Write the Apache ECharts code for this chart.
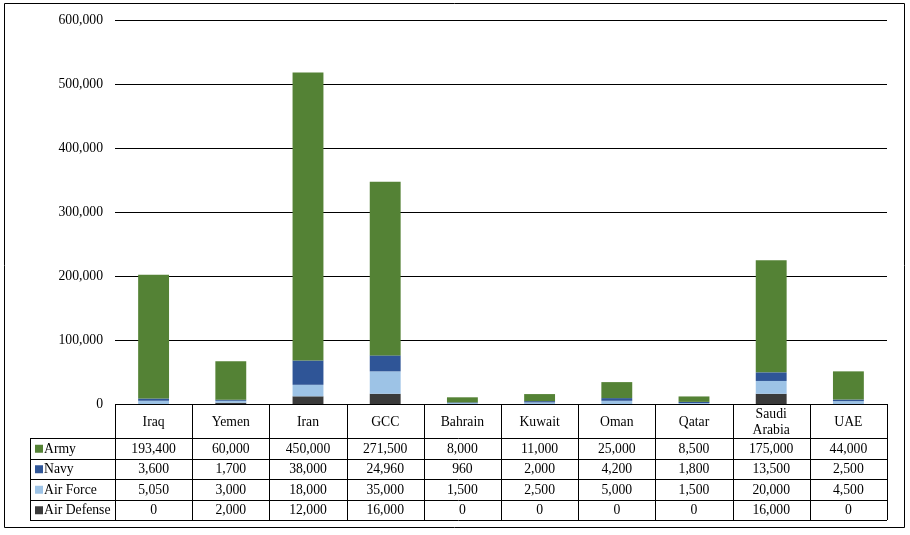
<!DOCTYPE html>
<html><head><meta charset="utf-8">
<script src="https://cdn.jsdelivr.net/npm/echarts@6/dist/echarts.min.js"></script>
<style>html,body{margin:0;padding:0;background:#fff}#c{width:910px;height:535px}</style>
</head><body><div id="c"></div>
<script>
const categories = ['Iraq','Yemen','Iran','GCC','Bahrain','Kuwait','Oman','Qatar','Saudi\nArabia','UAE'];
const army = [193400,60000,450000,271500,8000,11000,25000,8500,175000,44000];
const navy = [3600,1700,38000,24960,960,2000,4200,1800,13500,2500];
const airForce = [5050,3000,18000,35000,1500,2500,5000,1500,20000,4500];
const airDefense = [0,2000,12000,16000,0,0,0,0,16000,0];
const yTicks = [0,100000,200000,300000,400000,500000,600000];

const colors = {army:'#548235', navy:'#2F5597', airForce:'#9DC3E6', airDefense:'#3A3A3A'};
const FONT = '"Liberation Serif","Times New Roman",serif';
const FS = 13.7;

const L = 115, R = 887, T = 20, B = 404;
const W = 910, H = 535;
const colW = (R - L) / categories.length;
const headerH = 34;
const rowH = (520 - 438) / 4;
const legendX = 30;

const rows = [
  {name:'Army', data:army, color:colors.army},
  {name:'Navy', data:navy, color:colors.navy},
  {name:'Air Force', data:airForce, color:colors.airForce},
  {name:'Air Defense', data:airDefense, color:colors.airDefense}
];

const fmt = v => v.toLocaleString('en-US');
const g = [];
g.push({type:'rect', shape:{x:4.5,y:3.5,width:900,height:524}, style:{fill:null, stroke:'#000', lineWidth:1}, silent:true});
const tableTop = B, rowsTop = B + headerH, tableBottom = rowsTop + rowH*4;
const line = (x1,y1,x2,y2) => g.push({type:'line', shape:{x1,y1,x2,y2}, style:{stroke:'#000', lineWidth:1}, silent:true});
line(L, tableTop+0.5, R, tableTop+0.5);
for (let i=0;i<=categories.length;i++){
  const x = Math.round(L + i*colW)+0.5;
  line(x, tableTop, x, tableBottom);
}
line(legendX+0.5, rowsTop, legendX+0.5, tableBottom);
for (let r=0;r<=4;r++){
  const y = Math.round(rowsTop + r*rowH)+0.5;
  line(legendX, y, R, y);
}
categories.forEach((c,i)=>{
  g.push({type:'text', x:L+(i+0.5)*colW, y:tableTop+headerH/2+1, style:{text:c, fill:'#000', font:FS+'px '+FONT, align:'center', verticalAlign:'middle', lineHeight:16}, silent:true});
});
rows.forEach((row,r)=>{
  const cy = rowsTop + (r+0.5)*rowH + 1;
  g.push({type:'rect', shape:{x:legendX+5, y:cy-4.5, width:8, height:8}, style:{fill:row.color}, silent:true});
  g.push({type:'text', x:legendX+14, y:cy, style:{text:row.name, fill:'#000', font:FS+'px '+FONT, align:'left', verticalAlign:'middle'}, silent:true});
  row.data.forEach((v,i)=>{
    g.push({type:'text', x:L+(i+0.5)*colW, y:cy, style:{text:fmt(v), fill:'#000', font:FS+'px '+FONT, align:'center', verticalAlign:'middle'}, silent:true});
  });
});

const stackOrder = [rows[3], rows[2], rows[1], rows[0]];
const chart = echarts.init(document.getElementById('c'), null, {renderer:'canvas'});
chart.setOption({
  animation:false,
  backgroundColor:'#fff',
  grid:{left:L, right:W-R, top:T, bottom:H-B, containLabel:false},
  xAxis:{type:'category', data:categories, axisLine:{show:false}, axisTick:{show:false}, axisLabel:{show:false}},
  yAxis:{type:'value', min:yTicks[0], max:yTicks[yTicks.length-1], interval:100000,
    axisLine:{show:false}, axisTick:{show:false},
    axisLabel:{margin:12, color:'#000', fontFamily:FONT, fontSize:FS, formatter:v=>fmt(v)},
    splitLine:{lineStyle:{color:'#000', width:1}}},
  series: stackOrder.map(row=>({
    name:row.name, type:'bar', stack:'total', data:row.data, barWidth:'40%',
    itemStyle:{color:row.color}, silent:true
  })),
  graphic: g
});
</script></body></html>
